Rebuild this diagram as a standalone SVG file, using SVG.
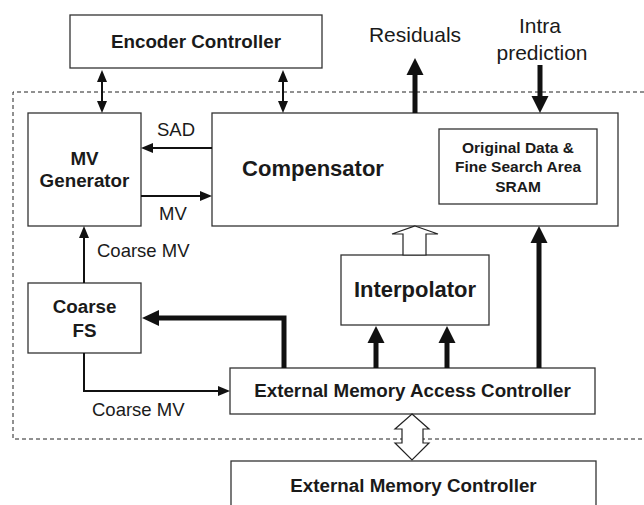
<svg xmlns="http://www.w3.org/2000/svg" width="644" height="505" viewBox="0 0 644 505">
<style>
.box{fill:#fff;stroke:#333;stroke-width:1.3}
.b{font-family:"Liberation Sans",Arial,sans-serif;font-weight:bold;font-size:18.8px;fill:#1a1a1a;text-anchor:middle}
.big{font-size:22px}
.sm{font-size:15.5px}
.r{font-family:"Liberation Sans",Arial,sans-serif;font-size:18.5px;fill:#1a1a1a}
.rl{font-size:21px;text-anchor:middle}
.thin{stroke:#111;stroke-width:2;fill:none}
.thick{stroke:#111;stroke-width:5;fill:none}
.hd{fill:#111}
.hollow{fill:#fff;stroke:#222;stroke-width:1.2}
</style>
<rect width="644" height="505" fill="#fff"/>
<path d="M644,92 H13 V439 H644" fill="none" stroke="#222" stroke-width="1" stroke-dasharray="4,3"/>

<g id="encoder-controller"><rect class="box" x="70" y="15" width="252" height="53"/><text class="b" x="196" y="48">Encoder Controller</text></g>
<g id="mv-generator"><rect class="box" x="28" y="113" width="113" height="113"/><text class="b" x="84.5" y="165">MV</text><text class="b" x="84.5" y="187">Generator</text></g>
<g id="compensator"><rect class="box" x="212" y="113" width="406" height="113"/><text class="b big" x="313" y="176">Compensator</text></g>
<g id="sram"><rect class="box" x="439" y="129" width="158" height="75"/><text class="b sm" x="518" y="153">Original Data &amp;</text><text class="b sm" x="518" y="172">Fine Search Area</text><text class="b sm" x="518" y="192">SRAM</text></g>
<g id="coarse-fs"><rect class="box" x="28" y="283" width="113" height="70"/><text class="b" x="84.5" y="313">Coarse</text><text class="b" x="84.5" y="337">FS</text></g>
<g id="interpolator"><rect class="box" x="341" y="255" width="148" height="70"/><text class="b big" x="415" y="297">Interpolator</text></g>
<g id="emac"><rect class="box" x="230" y="368" width="365" height="46"/><text class="b" x="412.5" y="397">External Memory Access Controller</text></g>
<g id="emc"><rect class="box" x="231" y="461" width="365" height="60"/><text class="b" x="413.5" y="492">External Memory Controller</text></g>

<g id="labels">
<text class="r" x="157" y="136">SAD</text>
<text class="r" x="159" y="220">MV</text>
<text class="r" x="97" y="257">Coarse MV</text>
<text class="r" x="92" y="416">Coarse MV</text>
<text class="r rl" x="415" y="42">Residuals</text>
<text class="r rl" x="540" y="33">Intra</text>
<text class="r rl" x="542" y="60">prediction</text>
</g>

<g id="connectors">
<!-- encoder <-> mv gen -->
<line class="thin" x1="102" y1="80" x2="102" y2="103"/>
<polygon class="hd" points="102,70 107,82 97,82"/>
<polygon class="hd" points="102,113 107,101 97,101"/>
<!-- encoder <-> compensator -->
<line class="thin" x1="283" y1="80" x2="283" y2="103"/>
<polygon class="hd" points="283,70 288,82 278,82"/>
<polygon class="hd" points="283,113 288,101 278,101"/>
<!-- SAD -->
<line class="thin" x1="212" y1="148" x2="152" y2="148"/>
<polygon class="hd" points="141,148 153,143 153,153"/>
<!-- MV -->
<line class="thin" x1="141" y1="196" x2="201" y2="196"/>
<polygon class="hd" points="212,196 200,191 200,201"/>
<!-- Coarse MV up -->
<line class="thin" x1="84" y1="283" x2="84" y2="237"/>
<polygon class="hd" points="84,226 89,238 79,238"/>
<!-- Coarse MV to EMAC -->
<polyline class="thin" points="84,353 84,391 219,391"/>
<polygon class="hd" points="230,391 218,386 218,396"/>
<!-- EMAC to Coarse FS -->
<polyline class="thick" points="284,368 284,318 157,318" stroke-linejoin="miter"/>
<polygon class="hd" points="142,318 159,310 159,326"/>
<!-- EMAC to Interpolator -->
<line class="thick" x1="376" y1="368" x2="376" y2="341"/>
<polygon class="hd" points="376,326 384.5,343 367.5,343"/>
<line class="thick" x1="447" y1="368" x2="447" y2="341"/>
<polygon class="hd" points="447,326 455.5,343 438.5,343"/>
<!-- EMAC to Compensator -->
<line class="thick" x1="539" y1="368" x2="539" y2="241"/>
<polygon class="hd" points="539,226 547.5,243 530.5,243"/>
<!-- Residuals -->
<line class="thick" x1="415" y1="113" x2="415" y2="73"/>
<polygon class="hd" points="415,58 423.5,75 406.5,75"/>
<!-- Intra prediction -->
<line class="thick" x1="540" y1="65" x2="540" y2="98"/>
<polygon class="hd" points="540,113 548.5,96 531.5,96"/>
<!-- Interpolator to Compensator (hollow) -->
<polygon class="hollow" points="415,226 438,234 426,234 426,255 403,255 403,234 392,234"/>
<!-- EMAC <-> EMC (hollow) -->
<polygon class="hollow" points="412,414 429,429 423,429 423,443 429,443 412,460 395,443 402,443 402,429 395,429"/>
</g>
</svg>
